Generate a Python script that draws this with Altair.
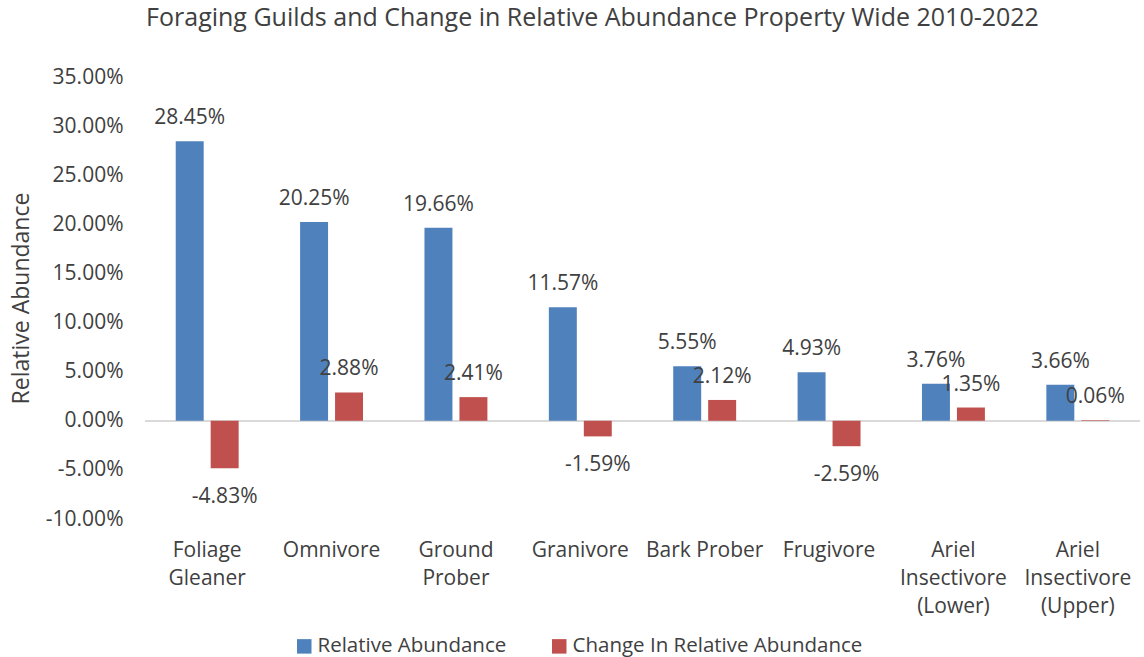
import altair as alt
import pandas as pd

categories = ["Foliage Gleaner", "Omnivore", "Ground Prober", "Granivore",
              "Bark Prober", "Frugivore", "Ariel Insectivore (Lower)",
              "Ariel Insectivore (Upper)"]
relative_abundance = [28.45, 20.25, 19.66, 11.57, 5.55, 4.93, 3.76, 3.66]
change_in_abundance = [-4.83, 2.88, 2.41, -1.59, 2.12, -2.59, 1.35, 0.06]
series_names = ["Relative Abundance", "Change In Relative Abundance"]
series_colors = ["#4F81BD", "#C0504D"]
y_ticks = [-0.10, -0.05, 0.0, 0.05, 0.10, 0.15, 0.20, 0.25, 0.30, 0.35]

rows = []
for c, r, d in zip(categories, relative_abundance, change_in_abundance):
    rows.append({"category": c, "series": series_names[0], "value": r / 100, "label": f"{r:.2f}%"})
    rows.append({"category": c, "series": series_names[1], "value": d / 100, "label": f"{d:.2f}%"})
df = pd.DataFrame(rows)

FONT = "Open Sans"
TXT = "#404040"
FS = 21

x_enc = alt.X("category:N", sort=categories,
              scale=alt.Scale(paddingInner=0.494, paddingOuter=0.247),
              axis=alt.Axis(title=None, domain=False, ticks=False, labelAngle=0,
                            labelFontSize=FS, labelColor=TXT, labelFont=FONT,
                            labelPadding=20, labelLineHeight=28,
                            labelExpr="datum.label == 'Bark Prober' ? datum.label : split(datum.label, ' ')"))
xo_enc = alt.XOffset("series:N", sort=series_names,
                     scale=alt.Scale(paddingInner=0.2, paddingOuter=0))
y_scale = alt.Scale(domain=[-0.10, 0.35], nice=False)

base = alt.Chart(df)

bars = base.mark_bar().encode(
    x=x_enc,
    xOffset=xo_enc,
    y=alt.Y("value:Q", scale=y_scale,
            axis=alt.Axis(title="Relative Abundance", values=y_ticks, grid=False,
                          domain=False, ticks=False, labelFontSize=FS, labelColor=TXT,
                          labelFont=FONT, labelPadding=22, titleFontSize=23,
                          titleFont=FONT, titleColor=TXT, titleFontWeight="normal",
                          titlePadding=12,
                          labelExpr="datum.value < 0 ? '-' + format(-datum.value, '.2%') : format(datum.value, '.2%')")),
    color=alt.Color("series:N", sort=series_names,
                    scale=alt.Scale(domain=series_names, range=series_colors),
                    legend=alt.Legend(title=None, orient="none", direction="horizontal",
                                      legendX=149, legendY=559, symbolType="square",
                                      symbolSize=210, symbolStrokeWidth=0,
                                      labelFontSize=20.5, labelFont=FONT, labelColor=TXT,
                                      labelLimit=0, columnPadding=42, symbolOffset=0,
                                      labelOffset=3)),
)

zero = alt.Chart(df).mark_rule(color="#D9D9D9", strokeWidth=1.5).encode(
    y=alt.datum(0)
)

pos_labels = base.transform_filter("datum.value >= 0").mark_text(
    baseline="bottom", dy=-13, fontSize=FS, font=FONT, color=TXT
).encode(x=x_enc, xOffset=xo_enc, y=alt.Y("value:Q", scale=y_scale), text="label:N")

neg_labels = base.transform_filter("datum.value < 0").mark_text(
    baseline="top", dy=18, fontSize=FS, font=FONT, color=TXT
).encode(x=x_enc, xOffset=xo_enc, y=alt.Y("value:Q", scale=y_scale), text="label:N")

chart = alt.layer(zero, bars, pos_labels, neg_labels).properties(
    width=995, height=442,
    title=alt.TitleParams("Foraging Guilds and Change in Relative Abundance Property Wide 2010-2022",
                          fontSize=25, font=FONT, color=TXT, fontWeight="normal",
                          anchor="middle", dx=-50, offset=35),
    autosize=alt.AutoSizeParams(type="none"),
    padding={"left": 145, "top": 77, "right": 4, "bottom": 138},
).configure(background="white").configure_view(strokeWidth=0, stroke="transparent")

chart.save("out.html", embed_options={"renderer": "svg", "actions": False})
